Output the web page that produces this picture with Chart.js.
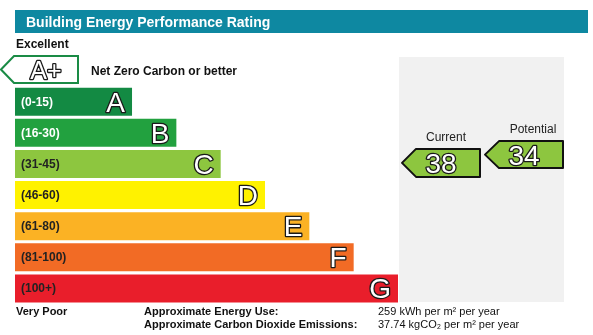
<!DOCTYPE html>
<html><head><meta charset="utf-8">
<script src="https://cdn.jsdelivr.net/npm/chart.js@4"></script>
<style>html,body{margin:0;padding:0;background:#fff}canvas{display:block}</style>
</head><body>
<canvas id="c" width="593" height="335"></canvas>
<script>
// ---- data ----
const bands = ['A+', 'A', 'B', 'C', 'D', 'E', 'F', 'G'];
const bandLength = [null, 1, 2, 3, 4, 5, 6, 7];
const rangeLabels = ['', '(0-15)', '(16-30)', '(31-45)', '(46-60)', '(61-80)', '(81-100)', '(100+)'];
const rangeLow = [null, 0, 16, 31, 46, 61, 81, 100];
const rangeHigh = [null, 15, 30, 45, 60, 80, 100, 120];
const bandColors = ['#ffffff', '#138a43', '#22a13f', '#8dc63f', '#fff200', '#fbb224', '#f26b25', '#e91e2b'];
const rangeTextColors = ['#000', '#ffffff', '#ffffff', '#222', '#222', '#222', '#222', '#222'];
const currentRating = 38;
const potentialRating = 34;
const title = 'Building Energy Performance Rating';
const energyUse = '259 kWh per m² per year';
const co2 = '37.74 kgCO₂ per m² per year';

function bandIndexFor(score){
  for (let i = 1; i < bands.length; i++) if (score <= rangeHigh[i]) return i;
  return bands.length - 1;
}

const F = '"Liberation Sans", Arial, sans-serif';

function outlined(ctx, txt, x, y, size, align){
  ctx.font = size + 'px ' + F;
  ctx.textAlign = align; ctx.textBaseline = 'alphabetic';
  ctx.lineJoin = 'round';
  ctx.lineWidth = 2.6; ctx.strokeStyle = '#1a1a1a';
  ctx.strokeText(txt, x, y);
  ctx.fillStyle = '#ffffff';
  ctx.fillText(txt, x, y);
}

function arrow(ctx, tipX, rightX, cy, h, tip, fill, stroke, lw){
  ctx.beginPath();
  ctx.moveTo(tipX, cy);
  ctx.lineTo(tipX + tip, cy - h/2);
  ctx.lineTo(rightX, cy - h/2);
  ctx.lineTo(rightX, cy + h/2);
  ctx.lineTo(tipX + tip, cy + h/2);
  ctx.closePath();
  ctx.fillStyle = fill; ctx.fill();
  ctx.lineWidth = lw; ctx.strokeStyle = stroke; ctx.stroke();
}

const decor = {
  id: 'decor',
  beforeDatasetsDraw(chart){
    const ctx = chart.ctx;
    ctx.save();
    // header
    ctx.fillStyle = '#0e88a1';
    ctx.fillRect(15, 10, 573, 23);
    ctx.fillStyle = '#fff';
    ctx.font = 'bold 14px ' + F;
    ctx.textAlign = 'left'; ctx.textBaseline = 'alphabetic';
    ctx.fillText(title, 26, 27);
    // grey panel
    ctx.fillStyle = '#f1f1f1';
    ctx.fillRect(399, 57, 165, 245);
    ctx.restore();
  },
  afterDraw(chart){
    const ctx = chart.ctx;
    const y = chart.scales.y, x = chart.scales.x;
    const pitch = Math.abs(y.getPixelForValue(2) - y.getPixelForValue(1));
    ctx.save();
    ctx.textBaseline = 'alphabetic';
    // A+ arrow
    const yp = y.getPixelForValue(0) - 1;
    arrow(ctx, 1, 78, yp, 27, 13, '#ffffff', '#1a8b45', 2);
    outlined(ctx, 'A+', 46, yp + 9, 25, 'center');
    ctx.fillStyle = '#111';
    ctx.font = 'bold 12px ' + F; ctx.textAlign = 'left';
    ctx.fillText('Net Zero Carbon or better', 91, yp + 5);
    ctx.fillText('Excellent', 16, 48);
    // band labels
    for (let i = 1; i < bands.length; i++){
      const cy = y.getPixelForValue(i);
      const right = x.getPixelForValue(bandLength[i]);
      ctx.fillStyle = rangeTextColors[i];
      ctx.font = 'bold 12px ' + F; ctx.textAlign = 'left';
      ctx.fillText(rangeLabels[i], 21, cy + 4);
      outlined(ctx, bands[i], right - 7, cy + 10, 28, 'right');
    }
    // rating arrows
    function ratingY(score){
      const i = bandIndexFor(score);
      const frac = (score - rangeLow[i]) / (rangeHigh[i] - rangeLow[i] + 1);
      return y.getPixelForValue(i) + (frac - 0.5) * pitch;
    }
    const cyC = ratingY(currentRating), cyP = ratingY(potentialRating);
    arrow(ctx, 402, 480, cyC, 28, 14, '#8dc63f', '#111', 2);
    outlined(ctx, String(currentRating), 441, cyC + 10, 28, 'center');
    arrow(ctx, 485, 563, cyP, 27, 14, '#8dc63f', '#111', 2);
    outlined(ctx, String(potentialRating), 524, cyP + 10, 28, 'center');
    ctx.fillStyle = '#222';
    ctx.font = '12px ' + F; ctx.textAlign = 'center';
    ctx.fillText('Current', 446, cyC - 22);
    ctx.fillText('Potential', 533, cyP - 22);
    // footer
    ctx.fillStyle = '#111';
    ctx.font = 'bold 11px ' + F; ctx.textAlign = 'left';
    ctx.fillText('Very Poor', 16, 315);
    ctx.fillText('Approximate Energy Use:', 144, 315);
    ctx.fillText('Approximate Carbon Dioxide Emissions:', 144, 328);
    ctx.font = '11px ' + F;
    ctx.fillText(energyUse, 378, 315);
    ctx.fillText(co2, 378, 328);
    ctx.restore();
  }
};

new Chart(document.getElementById('c'), {
  type: 'bar',
  data: {
    labels: bands,
    datasets: [{
      data: bandLength,
      backgroundColor: bandColors,
      borderWidth: 0,
      barPercentage: 0.9,
      categoryPercentage: 1.0,
      base: -1.64
    }]
  },
  options: {
    indexAxis: 'y',
    responsive: false,
    animation: false,
    events: [],
    layout: { padding: { left: 15, right: 195, top: 55, bottom: 31 } },
    plugins: { legend: { display: false }, tooltip: { enabled: false } },
    scales: {
      x: { display: false, min: -1.64, max: 7 },
      y: { display: false }
    }
  },
  plugins: [decor]
});
</script>
</body></html>
